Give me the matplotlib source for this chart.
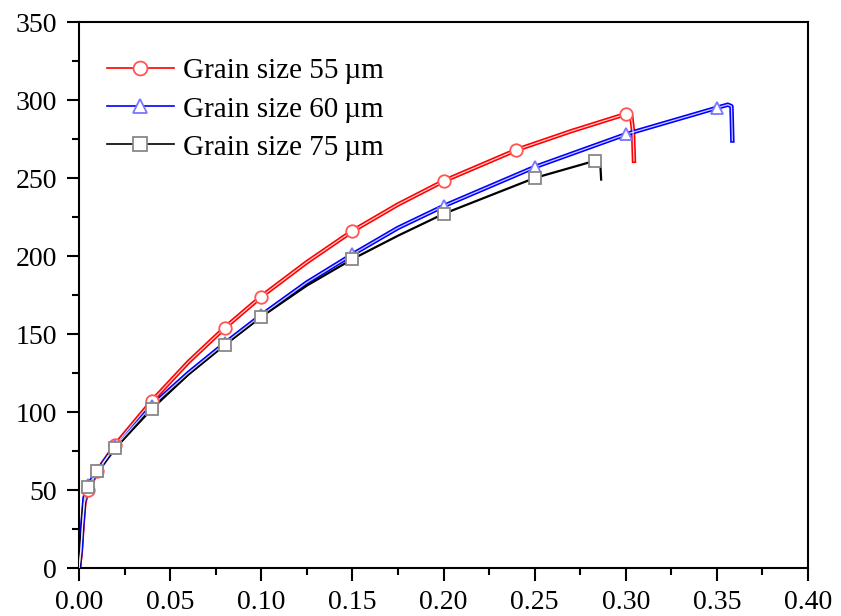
import matplotlib.pyplot as plt
import numpy as np

plt.rcParams['font.family'] = ['Liberation Serif', 'DejaVu Serif']

# strain / stress (MPa)
x_55 = [0.0, 0.001, 0.002, 0.003, 0.005, 0.01, 0.02, 0.04, 0.06, 0.08, 0.10, 0.125, 0.15, 0.175, 0.20, 0.24, 0.27, 0.30, 0.303, 0.304, 0.3045]
y_55 = [0, 10, 28, 42, 50, 62, 79, 107, 132, 154, 174, 196, 216, 233, 248, 268, 280, 291, 290, 280, 261]
mk_55 = [4, 5, 6, 7, 9, 10, 12, 14, 15, 17]

x_60 = [0.0, 0.001, 0.002, 0.003, 0.005, 0.01, 0.02, 0.04, 0.06, 0.08, 0.10, 0.125, 0.15, 0.175, 0.20, 0.25, 0.30, 0.35, 0.356, 0.358, 0.3585]
y_60 = [0, 12, 30, 45, 53, 62, 78, 104, 125, 144, 162, 183, 201, 218, 232, 257, 278, 295, 297, 296, 274]
mk_60 = [4, 5, 6, 7, 9, 10, 12, 14, 15, 16, 17]

x_75 = [0.0, 0.001, 0.002, 0.003, 0.005, 0.01, 0.02, 0.04, 0.06, 0.08, 0.10, 0.125, 0.15, 0.175, 0.20, 0.25, 0.283, 0.286, 0.2865]
y_75 = [0, 15, 32, 45, 52, 62, 77, 102, 124, 143, 161, 181, 198, 213, 227, 250, 261, 260, 249]
mk_75 = [4, 5, 6, 7, 9, 10, 12, 14, 15, 16]

labels = ['Grain size 55\u2009\u00b5m', 'Grain size 60\u2009\u00b5m', 'Grain size 75\u2009\u00b5m']

fig = plt.figure(figsize=(8.41, 6.16), dpi=100)
ax = fig.add_axes([79 / 841, 48 / 616, 729 / 841, 546 / 616])

series = [
    (x_55, y_55, mk_55, 'red', '#ff5555', 'o', True),
    (x_60, y_60, mk_60, 'blue', '#7777ff', '^', True),
    (x_75, y_75, mk_75, 'black', '#888888', 's', False),
]
for (x, y, mk, c, mc, m, double), lab in zip(series, labels):
    if double:
        ax.plot(x, y, color=c, lw=3.2, solid_joinstyle='round', zorder=2)
        ax.plot(x, y, color='white', lw=0.9, alpha=0.8, zorder=3)
    else:
        ax.plot(x, y, color=c, lw=1.6, zorder=2)
    xm = [x[i] for i in mk]
    ym = [y[i] for i in mk]
    ax.plot(xm, ym, ls='none', marker=m, ms=9, mfc='white', mec=mc, mew=1.3, zorder=4)
    # legend proxy
    ax.plot([], [], color=c, lw=1.2, marker=m, ms=10, mfc='white', mec=mc, mew=1.3, label=lab)

ax.set_xlim(0, 0.40)
ax.set_ylim(0, 350)
ax.set_xticks(np.arange(0, 0.401, 0.05))
ax.set_xticks(np.arange(0.025, 0.40, 0.05), minor=True)
ax.set_yticks(np.arange(0, 351, 50))
ax.set_yticks(np.arange(25, 350, 50), minor=True)
ax.xaxis.set_major_formatter(plt.FuncFormatter(lambda v, p: f'{v:.2f}'))
ax.tick_params(which='major', direction='out', length=9, width=1.5, labelsize=20, pad=7)
ax.tick_params(which='minor', direction='out', length=5, width=1.5)
ax.tick_params(top=False, right=False)
for s in ax.spines.values():
    s.set_linewidth(1.5)

ax.legend(loc='upper left', bbox_to_anchor=(0.038, 0.934), frameon=False, fontsize=21,
          borderpad=0, borderaxespad=0, handlelength=2.3, handletextpad=0.3, labelspacing=0.4)

fig.savefig('out.png', dpi=100)
